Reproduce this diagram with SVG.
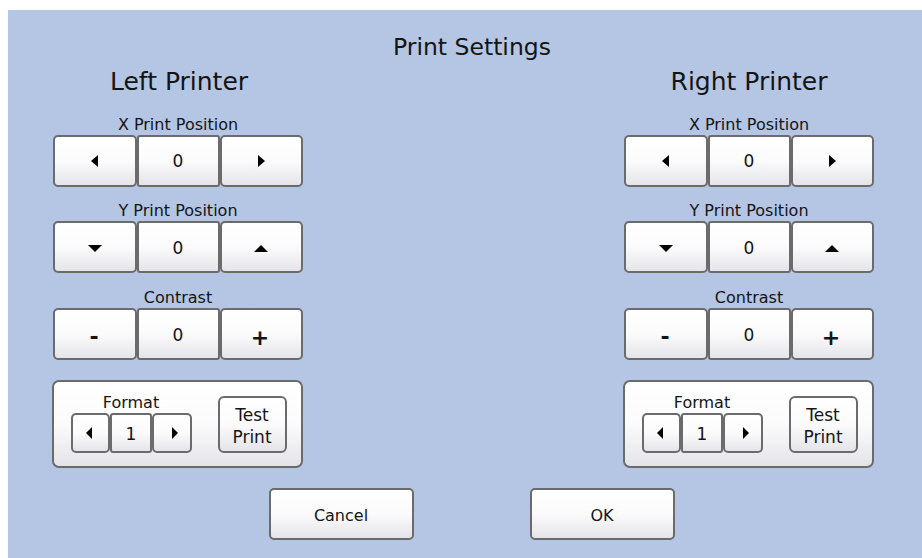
<svg xmlns="http://www.w3.org/2000/svg" width="922" height="558" viewBox="0 0 922 558">
  <defs>
    <linearGradient id="btnFill" x1="0" y1="0" x2="0" y2="1">
      <stop offset="0" stop-color="#ffffff"/>
      <stop offset="0.5" stop-color="#fbfbfc"/>
      <stop offset="1" stop-color="#e4e3e8"/>
    </linearGradient>
    <style>
      .bg { fill: #b4c6e4; }
      .btn { fill: url(#btnFill); stroke: #6b6b6b; stroke-width: 2; }
      .panel { fill: url(#btnFill); stroke: #6b6b6b; stroke-width: 2; }
      .t { font-family: "DejaVu Sans", "Liberation Sans", sans-serif; fill: #141414; text-anchor: middle; }
      .title { font-size: 23.5px; }
      .head { font-size: 25px; }
      .lbl { font-size: 16px; }
      .val { font-size: 17px; }
      .cap { font-size: 16px; }
      .sign { font-size: 22px; font-weight: bold; }
      .arr { fill: #000000; }
    </style>
  </defs>

  <rect x="0" y="0" width="922" height="558" fill="#ffffff"/>
  <rect class="bg" x="8" y="10" width="914" height="548"/>

  <text class="t title" x="472" y="55">Print Settings</text>

  <!-- Left printer -->
  <g id="left-printer">
    <text class="t head" x="179" y="90">Left Printer</text>

    <g id="left-x">
      <text class="t lbl" x="178" y="130">X Print Position</text>
      <rect class="btn" x="54" y="136" width="82" height="50" rx="4"/>
      <rect class="btn" x="138" y="136" width="81" height="50" rx="2"/>
      <rect class="btn" x="221" y="136" width="81" height="50" rx="4"/>
      <polygon class="arr" points="91,161 98,155 98,167"/>
      <text class="t val" x="178" y="167">0</text>
      <polygon class="arr" points="265,161 258,155 258,167"/>
    </g>

    <g id="left-y">
      <text class="t lbl" x="178" y="216">Y Print Position</text>
      <rect class="btn" x="54" y="222" width="82" height="50" rx="4"/>
      <rect class="btn" x="138" y="222" width="81" height="50" rx="2"/>
      <rect class="btn" x="221" y="222" width="81" height="50" rx="4"/>
      <polygon class="arr" points="88,245 102,245 95,252"/>
      <text class="t val" x="178" y="254">0</text>
      <polygon class="arr" points="254,252 268,252 261,245"/>
    </g>

    <g id="left-contrast">
      <text class="t lbl" x="178" y="303">Contrast</text>
      <rect class="btn" x="54" y="309" width="82" height="50" rx="4"/>
      <rect class="btn" x="138" y="309" width="81" height="50" rx="2"/>
      <rect class="btn" x="221" y="309" width="81" height="50" rx="4"/>
      <text class="t sign" x="94" y="344">-</text>
      <text class="t val" x="178" y="341">0</text>
      <text class="t sign" x="260" y="345">+</text>
    </g>

    <g id="left-format">
      <rect class="panel" x="53" y="381" width="249" height="86" rx="6"/>
      <text class="t lbl" x="131" y="408">Format</text>
      <rect class="btn" x="72" y="414" width="37" height="38" rx="4"/>
      <rect class="btn" x="111" y="414" width="40" height="38" rx="2"/>
      <rect class="btn" x="153" y="414" width="38" height="38" rx="4"/>
      <polygon class="arr" points="86,433 92,427 92,439"/>
      <text class="t val" x="131" y="440">1</text>
      <polygon class="arr" points="178,433 172,427 172,439"/>
      <rect class="btn" x="219" y="397" width="67" height="55" rx="5"/>
      <text class="t val" x="252" y="421">Test</text>
      <text class="t val" x="252" y="443">Print</text>
    </g>
  </g>

  <!-- Right printer -->
  <g id="right-printer" transform="translate(571,0)">
    <text class="t head" x="178" y="90">Right Printer</text>

    <g id="right-x">
      <text class="t lbl" x="178" y="130">X Print Position</text>
      <rect class="btn" x="54" y="136" width="82" height="50" rx="4"/>
      <rect class="btn" x="138" y="136" width="81" height="50" rx="2"/>
      <rect class="btn" x="221" y="136" width="81" height="50" rx="4"/>
      <polygon class="arr" points="91,161 98,155 98,167"/>
      <text class="t val" x="178" y="167">0</text>
      <polygon class="arr" points="265,161 258,155 258,167"/>
    </g>

    <g id="right-y">
      <text class="t lbl" x="178" y="216">Y Print Position</text>
      <rect class="btn" x="54" y="222" width="82" height="50" rx="4"/>
      <rect class="btn" x="138" y="222" width="81" height="50" rx="2"/>
      <rect class="btn" x="221" y="222" width="81" height="50" rx="4"/>
      <polygon class="arr" points="88,245 102,245 95,252"/>
      <text class="t val" x="178" y="254">0</text>
      <polygon class="arr" points="254,252 268,252 261,245"/>
    </g>

    <g id="right-contrast">
      <text class="t lbl" x="178" y="303">Contrast</text>
      <rect class="btn" x="54" y="309" width="82" height="50" rx="4"/>
      <rect class="btn" x="138" y="309" width="81" height="50" rx="2"/>
      <rect class="btn" x="221" y="309" width="81" height="50" rx="4"/>
      <text class="t sign" x="94" y="344">-</text>
      <text class="t val" x="178" y="341">0</text>
      <text class="t sign" x="260" y="345">+</text>
    </g>

    <g id="right-format">
      <rect class="panel" x="53" y="381" width="249" height="86" rx="6"/>
      <text class="t lbl" x="131" y="408">Format</text>
      <rect class="btn" x="72" y="414" width="37" height="38" rx="4"/>
      <rect class="btn" x="111" y="414" width="40" height="38" rx="2"/>
      <rect class="btn" x="153" y="414" width="38" height="38" rx="4"/>
      <polygon class="arr" points="86,433 92,427 92,439"/>
      <text class="t val" x="131" y="440">1</text>
      <polygon class="arr" points="178,433 172,427 172,439"/>
      <rect class="btn" x="219" y="397" width="67" height="55" rx="5"/>
      <text class="t val" x="252" y="421">Test</text>
      <text class="t val" x="252" y="443">Print</text>
    </g>
  </g>

  <g id="cancel">
    <rect class="btn" x="270" y="489" width="143" height="50" rx="4"/>
    <text class="t cap" x="341" y="521">Cancel</text>
  </g>
  <g id="ok">
    <rect class="btn" x="531" y="489" width="143" height="50" rx="4"/>
    <text class="t cap" x="602" y="521">OK</text>
  </g>
</svg>
